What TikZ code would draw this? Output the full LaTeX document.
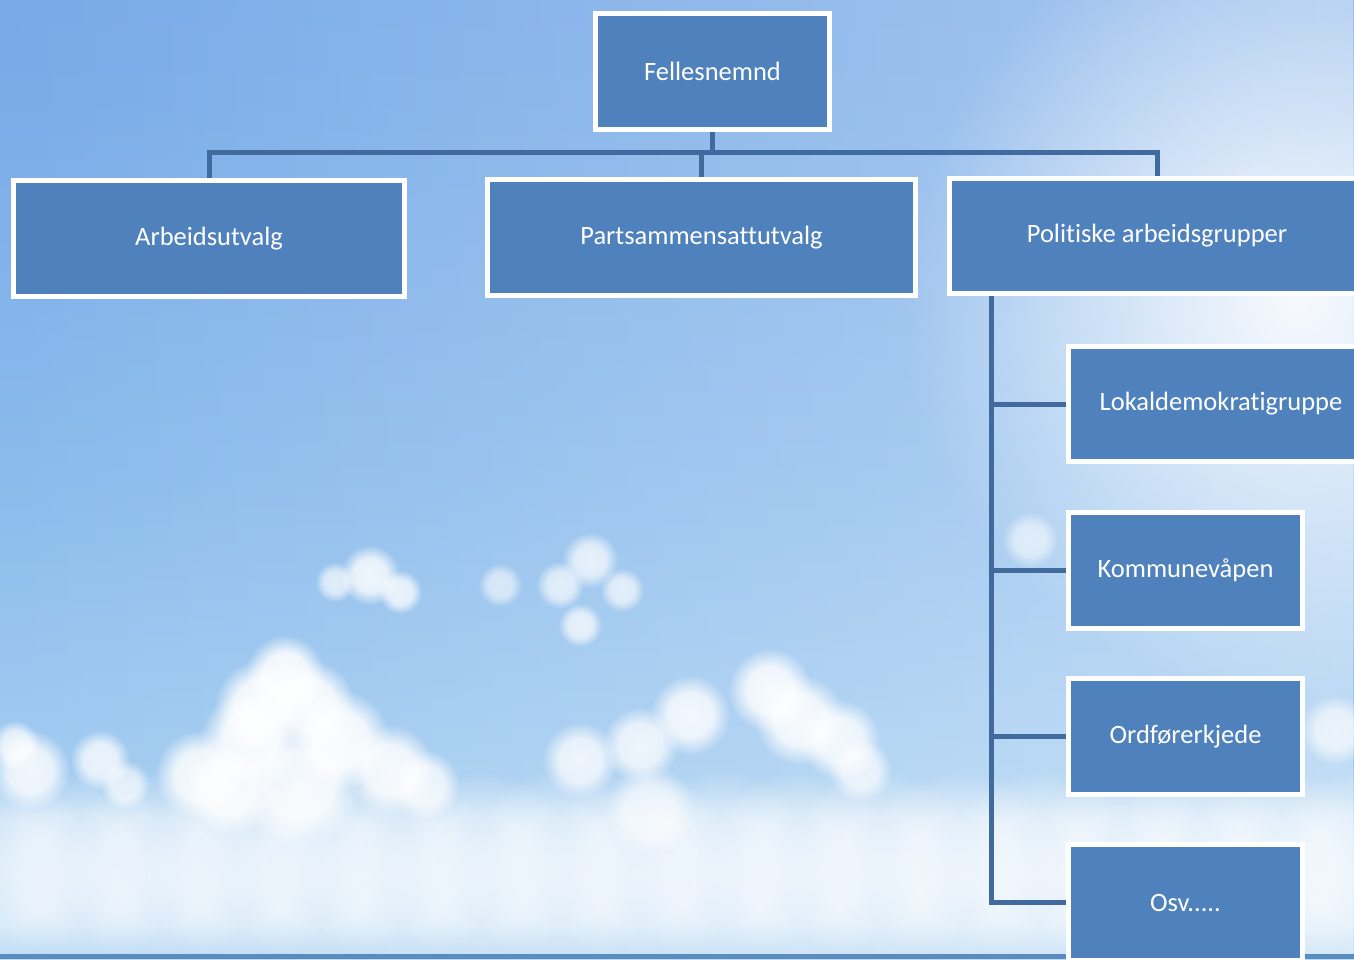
\documentclass[tikz,border=0pt]{standalone}
\usepackage{fontspec}
\setmainfont{Carlito}[Ligatures=NoCommon]
\usetikzlibrary{positioning,fadings}
\pgfdeclarelayer{sky}
\pgfdeclarelayer{links}
\pgfsetlayers{sky,links,main}
\definecolor{boxblue}{HTML}{4F81BD}
\definecolor{linkblue}{HTML}{416B9F}
\definecolor{seablue}{HTML}{5A8CC0}
\definecolor{skya}{HTML}{EEF6FC}
\definecolor{skyb}{HTML}{DCEDF9}
\definecolor{skyc}{HTML}{A8D0F2}
\definecolor{skyd}{HTML}{8BBBEC}
\definecolor{skye}{HTML}{7AACE8}
\definecolor{skyf}{HTML}{6E9FE5}
\pgfdeclareverticalshading{sky}{100bp}{color(0bp)=(skya); color(12bp)=(skyb);
  color(30bp)=(skyc); color(50bp)=(skyd); color(70bp)=(skye); color(100bp)=(skyf)}
\pgfdeclareradialshading{puffshade}{\pgfpointorigin}{color(0bp)=(pgftransparent!0);
  color(14bp)=(pgftransparent!10); color(25bp)=(pgftransparent!100); color(50bp)=(pgftransparent!100)}
\pgfdeclarefading{puff}{\pgfuseshading{puffshade}}
\tikzfading[name=glow, inner color=transparent!0, outer color=transparent!100]
\tikzfading[name=eastlight, left color=transparent!100, right color=transparent!65]
\tikzset{unit/.style = {draw=white, line width=5pt, fill=boxblue, text=white,
    font=\fontsize{26.5}{30}\selectfont, minimum height=116pt, inner sep=0pt},
  link/.style = {draw=linkblue, line width=5pt},
  cloud/.style = {fill=white, path fading=puff}}

\begin{document}
\begin{tikzpicture}[x=1pt,y=-1pt,node distance=45pt]
  \useasboundingbox (0,0) rectangle (1354,959);
  \clip (0,0) rectangle (1354,959);
  \begin{pgfonlayer}{sky}
    \shade[shading=sky] (0,0) rectangle (1354,959);
    \fill[white, path fading=eastlight] (0,0) rectangle (1354,959);
    % sun glow and clouds
    \fill[white, path fading=glow, opacity=.9] (1300,300) circle (400);
    \foreach \x/\y/\r/\o in {285/675/40/.95, 260/705/45/.95, 310/705/45/.95, 250/740/50/.95,
        340/740/50/.95, 390/770/45/.9, 200/775/45/.9, 300/785/60/.9, 425/785/35/.8,
        230/790/45/.9, 30/770/40/.85, 15/745/25/.8, 100/760/30/.8, 125/785/25/.7,
        370/575/30/.85, 400/592/22/.8, 335/582/20/.7, 590/560/28/.75, 560/585/24/.7,
        622/590/22/.7, 580/625/22/.75, 500/585/22/.6, 770/690/42/.9, 800/720/45/.9,
        840/740/40/.85, 690/715/40/.85, 640/745/38/.8, 580/760/38/.8, 860/770/32/.75,
        650/810/45/.7, 1030/540/28/.6, 1335/730/35/.7}
      \fill[cloud, opacity=\o] (\x,\y) circle (\r);
    \foreach \x in {0,80,...,1400}
      \fill[cloud, opacity=.55] (\x,870) circle (100);
    \fill[seablue] (0,954) rectangle (1354,959);
  \end{pgfonlayer}

  \node[unit, minimum width=234pt] (fn) at (712.5,71) {Fellesnemnd};
  \node[unit, minimum width=391pt] (au) at (209,238.5) {Arbeidsutvalg};
  \node[unit, minimum width=428pt] (pu) at (701.5,237.5) {Partsammensattutvalg};
  \node[unit, minimum width=415pt, minimum height=115pt] (pa) at (1157,236) {Politiske arbeidsgrupper};
  \node[unit, minimum width=305pt, minimum height=115pt] (lg) at (1221,404) {Lokaldemokratigruppe};
  \node[unit, minimum width=234pt] (kv) at (1185.5,570.5) {Kommunevåpen};
  \node[unit, minimum width=234pt] (ok) [below=of kv] {Ordførerkjede};
  \node[unit, minimum width=234pt] (osv) [below=of ok] {Osv.....};

  \begin{pgfonlayer}{links}
    \draw[link] (fn.south) -- ++(0,21) coordinate (bus) -| (au.north);
    \draw[link] (bus) -| (pu.north);
    \draw[link] (bus) -| (pa.north);
    \foreach \g in {lg,kv,ok,osv}
      \draw[link] ([xshift=44pt]pa.south west) |- (\g.west);
  \end{pgfonlayer}
\end{tikzpicture}
\end{document}
